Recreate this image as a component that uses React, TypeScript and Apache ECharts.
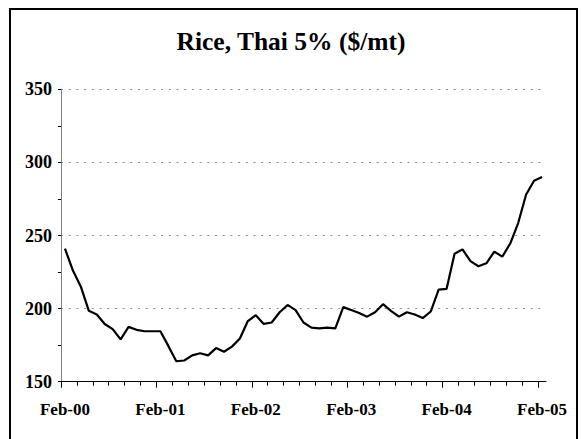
import React, { useEffect, useRef } from "react";
import * as echarts from "echarts";

const TITLE = "Rice, Thai 5% ($/mt)";

const months: string[] = [
  "Feb-00", "Mar-00", "Apr-00", "May-00", "Jun-00", "Jul-00", "Aug-00", "Sep-00", "Oct-00", "Nov-00", "Dec-00", "Jan-01",
  "Feb-01", "Mar-01", "Apr-01", "May-01", "Jun-01", "Jul-01", "Aug-01", "Sep-01", "Oct-01", "Nov-01", "Dec-01", "Jan-02",
  "Feb-02", "Mar-02", "Apr-02", "May-02", "Jun-02", "Jul-02", "Aug-02", "Sep-02", "Oct-02", "Nov-02", "Dec-02", "Jan-03",
  "Feb-03", "Mar-03", "Apr-03", "May-03", "Jun-03", "Jul-03", "Aug-03", "Sep-03", "Oct-03", "Nov-03", "Dec-03", "Jan-04",
  "Feb-04", "Mar-04", "Apr-04", "May-04", "Jun-04", "Jul-04", "Aug-04", "Sep-04", "Oct-04", "Nov-04", "Dec-04", "Jan-05",
  "Feb-05",
];

// month boundaries (start of each month plus the end of the last one), used only for tick marks
const monthBoundaries: string[] = [...months, "Mar-05"];

const prices: number[] = [
  241, 226, 215, 198.5, 196, 189.5, 186, 179, 187.5, 185.5, 184.5, 184.5,
  184.5, 174.5, 164, 164.5, 168, 169.5, 168, 173, 170.5, 174, 179.5, 191.5,
  195.5, 189.5, 190.5, 197.5, 202.5, 199, 190.5, 187, 186.5, 187, 186.5, 201,
  199, 197, 194.5, 197.5, 203, 198.5, 194.5, 197.5, 196, 193.5, 198, 213,
  213.5, 237.5, 240.5, 232.5, 229, 231, 239, 235.5, 244.5, 258.5, 278, 287.5,
  290,
];

const yTicks: number[] = [150, 200, 250, 300, 350];

const FONT = "'Liberation Serif', 'Times New Roman', serif";

export default function App() {
  const ref = useRef<HTMLDivElement>(null);

  useEffect(() => {
    if (!ref.current) return;
    const chart = echarts.init(ref.current, undefined, { renderer: "svg" });
    const tickAxis = (interval: number, length: number) => ({
      type: "category",
      data: monthBoundaries,
      boundaryGap: false,
      position: "bottom",
      axisLine: { show: false },
      axisTick: { show: true, interval, length, lineStyle: { color: "#000" } },
      axisLabel: { show: false },
      splitLine: { show: false },
    });
    chart.setOption({
      animation: false,
      backgroundColor: "#ffffff",
      title: {
        text: TITLE,
        left: "center",
        top: 23,
        textStyle: { fontFamily: FONT, fontWeight: "bold", fontSize: 25.5, color: "#000" },
      },
      graphic: [
        { type: "line", shape: { x1: 10, y1: 8, x2: 10, y2: 439 }, style: { stroke: "#000", lineWidth: 2 } },
        { type: "line", shape: { x1: 9, y1: 9, x2: 578, y2: 9 }, style: { stroke: "#000", lineWidth: 2 } },
        { type: "line", shape: { x1: 577, y1: 8, x2: 577, y2: 439 }, style: { stroke: "#000", lineWidth: 2 } },
      ],
      grid: { left: 61, top: 89.3, right: 36, bottom: 57.3, containLabel: false },
      xAxis: [
        {
          type: "category",
          data: months,
          boundaryGap: true,
          position: "bottom",
          axisLine: { show: true, lineStyle: { color: "#000", width: 1 } },
          axisTick: { show: false },
          axisLabel: {
            interval: 11,
            margin: 19,
            fontFamily: FONT,
            fontWeight: "bold",
            fontSize: 17,
            color: "#000",
          },
          splitLine: { show: false },
        },
        tickAxis(1, 4),
        tickAxis(11, 6),
      ],
      yAxis: {
        type: "value",
        min: yTicks[0],
        max: yTicks[yTicks.length - 1],
        interval: 50,
        axisLine: { show: true, lineStyle: { color: "#808080", width: 1 } },
        axisTick: { show: true, length: 3, lineStyle: { color: "#000" } },
        minorTick: { show: true, splitNumber: 2, length: 3, lineStyle: { color: "#000" } },
        axisLabel: {
          margin: 9,
          fontFamily: FONT,
          fontWeight: "bold",
          fontSize: 18,
          color: "#000",
        },
        splitLine: {
          show: true,
          lineStyle: { color: "#8c8c8c", type: [2, 5.7], width: 1 },
        },
      },
      series: [
        {
          type: "line",
          data: prices,
          xAxisIndex: 0,
          showSymbol: false,
          symbol: "none",
          lineStyle: { color: "#000", width: 2.2 },
        },
      ],
    });
    return () => chart.dispose();
  }, []);

  return (
    <div
      ref={ref}
      style={{ position: "absolute", left: 0, top: 0, width: 582, height: 439, background: "#fff" }}
    />
  );
}
